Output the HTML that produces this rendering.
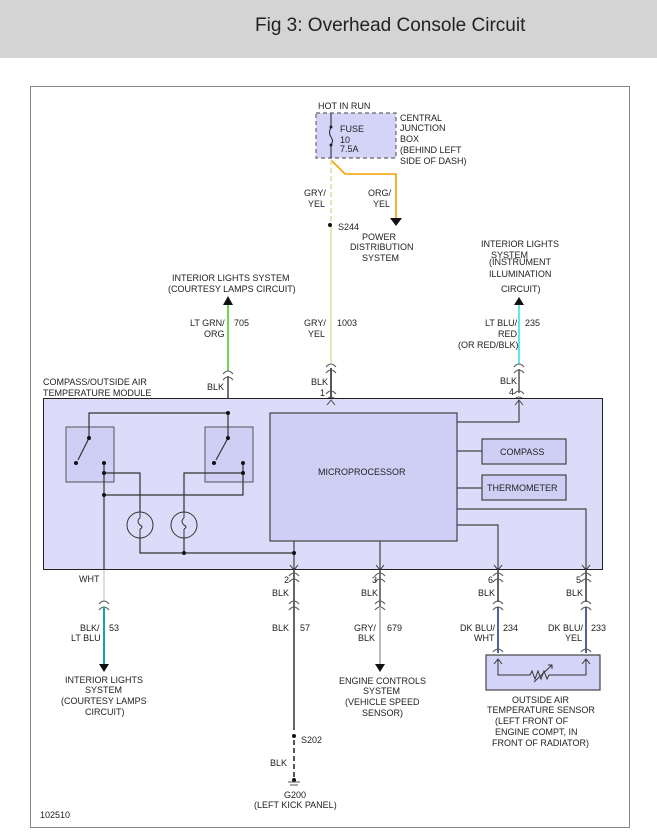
<!DOCTYPE html>
<html><head><meta charset="utf-8"><style>
html,body{margin:0;padding:0;background:#fff;}
svg{display:block;font-family:"Liberation Sans",sans-serif;}
text{font-size:9px;fill:#222;}
</style></head><body>
<svg width="657" height="837" viewBox="0 0 657 837" xmlns="http://www.w3.org/2000/svg">
<defs>
<g id="cn"><path d="M-5,2 Q0,-4 5,2 M-5,8 Q0,2 5,8" fill="none" stroke="#555" stroke-width="1"/></g>
</defs>
<rect x="0" y="0" width="657" height="58" fill="#d4d4d4"/>
<text x="255" y="31" style="font-size:19px" fill="#333">Fig 3: Overhead Console Circuit</text>
<rect x="30.5" y="86.5" width="599" height="741" fill="#fff" stroke="#888" stroke-width="1"/>

<!-- fuse box -->
<rect x="316" y="113" width="80" height="45" fill="#d4d4f8" stroke="#666" stroke-dasharray="4,3" stroke-width="1.2"/>
<text x="318" y="109">HOT IN RUN</text>
<line x1="331" y1="113" x2="331" y2="127" stroke="#222"/>
<path d="M331,127 q-3,6 0,10 q3,4 0,8" fill="none" stroke="#222"/>
<line x1="331" y1="145" x2="331" y2="158" stroke="#222"/>
<circle cx="331" cy="127" r="1.5" fill="#222"/><circle cx="331" cy="145" r="1.5" fill="#222"/>
<text x="340" y="132">FUSE</text><text x="340" y="143">10</text><text x="340" y="152">7.5A</text>
<text x="400" y="121">CENTRAL</text><text x="400" y="131">JUNCTION</text><text x="400" y="142">BOX</text><text x="400" y="153">(BEHIND LEFT</text><text x="400" y="164">SIDE OF DASH)</text>
<path d="M331,160 L345,174 L396,174 L396,218" fill="none" stroke="#f4a200" stroke-width="1.6"/>
<path d="M390,218 L402,218 L396,226 Z" fill="#111"/>
<text x="368" y="196">ORG/</text><text x="373" y="207">YEL</text>
<text x="362" y="240">POWER</text><text x="350" y="250">DISTRIBUTION</text><text x="362" y="261">SYSTEM</text>
<line x1="331" y1="160" x2="331" y2="225" stroke="#e4e4b8" stroke-width="2" stroke-dasharray="5,3"/>
<line x1="331" y1="225" x2="331" y2="363" stroke="#e6e6b8" stroke-width="2"/>
<circle cx="330" cy="225" r="2" fill="#111"/>
<text x="338" y="230">S244</text>
<text x="304" y="196">GRY/</text><text x="308" y="207">YEL</text>
<text x="304" y="326">GRY/</text><text x="308" y="337">YEL</text><text x="337" y="326">1003</text>
<use href="#cn" x="331" y="365"/>
<line x1="331" y1="368" x2="331" y2="413" stroke="#555" stroke-width="2"/>
<use href="#cn" x="331" y="392"/>
<text x="311" y="385">BLK</text><text x="320" y="396">1</text>

<!-- left top -->
<text x="172" y="281">INTERIOR LIGHTS SYSTEM</text>
<text x="168" y="292">(COURTESY LAMPS CIRCUIT)</text>
<path d="M223,305 L233,305 L228,296 Z" fill="#111"/>
<line x1="228" y1="305" x2="228" y2="371" stroke="#6ed84a" stroke-width="2"/>
<text x="190" y="326">LT GRN/</text><text x="204" y="337">ORG</text><text x="234" y="326">705</text>
<use href="#cn" x="228" y="372"/>
<line x1="228" y1="376" x2="228" y2="413" stroke="#444" stroke-width="1.5"/>
<text x="207" y="390">BLK</text>

<!-- right top -->
<text x="481" y="247">INTERIOR LIGHTS</text><text x="491" y="258">SYSTEM</text>
<text x="489" y="265">(INSTRUMENT</text><text x="489" y="277">ILLUMINATION</text><text x="501" y="292">CIRCUIT)</text>
<path d="M514,305 L524,305 L519,297 Z" fill="#111"/>
<line x1="519" y1="305" x2="519" y2="364" stroke="#5fe8ec" stroke-width="2"/>
<text x="485" y="326">LT BLU/</text><text x="498" y="337">RED</text><text x="458" y="348">(OR RED/BLK)</text><text x="525" y="326">235</text>
<use href="#cn" x="519" y="365"/>
<line x1="519" y1="369" x2="519" y2="393" stroke="#555" stroke-width="1.5"/>
<use href="#cn" x="519" y="392"/>
<text x="500" y="384">BLK</text><text x="509" y="395">4</text>

<!-- module -->
<text x="43" y="385">COMPASS/OUTSIDE AIR</text><text x="43" y="396">TEMPERATURE MODULE</text>
<rect x="43.5" y="398.5" width="559" height="171" fill="#dcdcfa" stroke="#222" stroke-width="1"/>
<rect x="270" y="413" width="187" height="128" fill="#cfcff6" stroke="#444" stroke-width="1.2"/>
<text x="318" y="475">MICROPROCESSOR</text>
<rect x="482" y="439" width="84" height="25" fill="#cfcff6" stroke="#444" stroke-width="1.2"/>
<text x="500" y="455">COMPASS</text>
<rect x="482" y="475" width="84" height="25" fill="#cfcff6" stroke="#444" stroke-width="1.2"/>
<text x="487" y="491">THERMOMETER</text>
<g fill="none" stroke="#444" stroke-width="1.2">
<path d="M457,422 L519,422 L519,401"/>
<path d="M457,451 L482,451 M457,488 L482,488"/>
<path d="M457,509 L586,509 L586,570"/>
<path d="M457,525 L498,525 L498,570"/>
<path d="M380,541 L380,570"/>
<path d="M294,541 L294,570"/>
</g>
<path d="M515,405 L519,400 L523,405" fill="none" stroke="#444"/>
<path d="M327,405 L331,400 L335,405" fill="none" stroke="#444"/>
<rect x="66" y="427" width="48" height="55" fill="#cfcff6" stroke="#555"/>
<rect x="205" y="427" width="48" height="55" fill="#cfcff6" stroke="#555"/>
<g fill="none" stroke="#333" stroke-width="1.2">
<path d="M89,438 L89,413 L228,413"/>
<path d="M228,413 L228,438"/>
<path d="M89,438 L78,460 M228,438 L216,460"/>
<path d="M104,463 L104,570"/>
<path d="M104,473 L140,473 L140,512"/>
<path d="M243,463 L243,495 L104,495"/>
<path d="M243,473 L184,473 L184,512"/>
<path d="M140,538 L140,553 L294,553"/>
<path d="M184,538 L184,553"/>
</g>
<g fill="#111">
<circle cx="89" cy="438" r="2"/><circle cx="76" cy="463" r="2"/><circle cx="104" cy="463" r="2"/><circle cx="104" cy="473" r="2"/><circle cx="104" cy="495" r="2"/>
<circle cx="228" cy="413" r="2"/><circle cx="228" cy="438" r="2"/><circle cx="214" cy="463" r="2"/><circle cx="243" cy="463" r="2"/><circle cx="243" cy="473" r="2"/>
<circle cx="184" cy="553" r="2"/><circle cx="294" cy="553" r="2"/>
</g>
<g fill="none" stroke="#333">
<circle cx="140" cy="525" r="13"/><circle cx="184" cy="525" r="13"/>
<path d="M140,518 q-4,3 0,7 q4,2 0,4 M140,512 L140,518 M140,529 L140,538"/>
<path d="M184,518 q-4,3 0,7 q4,2 0,4 M184,512 L184,518 M184,529 L184,538"/>
<path d="M290,565 L294,570 L298,565 M376,565 L380,570 L384,565 M494,565 L498,570 L502,565 M582,565 L586,570 L590,565"/>
</g>

<!-- bottom wires -->
<line x1="104" y1="570" x2="104" y2="602" stroke="#ddd" stroke-width="2"/>
<text x="79" y="582">WHT</text>
<use href="#cn" x="104" y="602"/>
<line x1="104" y1="607" x2="104" y2="664" stroke="#1aa3a3" stroke-width="2"/>
<path d="M99,664 L109,664 L104,672 Z" fill="#111"/>
<text x="80" y="631">BLK/</text><text x="71" y="641">LT BLU</text><text x="109" y="631">53</text>
<text x="65" y="683">INTERIOR LIGHTS</text><text x="85" y="693">SYSTEM</text><text x="61" y="704">(COURTESY LAMPS</text><text x="85" y="715">CIRCUIT)</text>

<line x1="294" y1="570" x2="294" y2="730" stroke="#666" stroke-width="2"/>
<use href="#cn" x="294" y="574"/><use href="#cn" x="294" y="602"/>
<text x="284" y="583">2</text><text x="272" y="596">BLK</text>
<text x="272" y="631">BLK</text><text x="300" y="631">57</text>
<circle cx="294" cy="736" r="2" fill="#111"/>
<text x="301" y="743">S202</text>
<line x1="294" y1="740" x2="294" y2="780" stroke="#555" stroke-width="2" stroke-dasharray="5,3"/>
<text x="270" y="766">BLK</text>
<circle cx="294" cy="780" r="2" fill="#111"/>
<path d="M288,782 L300,782 M290,785 L298,785" stroke="#555"/>
<text x="284" y="798">G200</text><text x="254" y="808">(LEFT KICK PANEL)</text>

<line x1="380" y1="570" x2="380" y2="664" stroke="#777" stroke-width="2"/>
<use href="#cn" x="380" y="574"/><use href="#cn" x="380" y="602"/>
<line x1="380" y1="607" x2="380" y2="664" stroke="#bbb" stroke-width="2"/>
<path d="M375,664 L385,664 L380,672 Z" fill="#111"/>
<text x="372" y="583">3</text><text x="361" y="596">BLK</text>
<text x="354" y="631">GRY/</text><text x="358" y="641">BLK</text><text x="387" y="631">679</text>
<text x="339" y="684">ENGINE CONTROLS</text><text x="363" y="694">SYSTEM</text><text x="345" y="705">(VEHICLE SPEED</text><text x="362" y="716">SENSOR)</text>

<line x1="498" y1="570" x2="498" y2="602" stroke="#666" stroke-width="2"/>
<use href="#cn" x="498" y="574"/><use href="#cn" x="498" y="602"/>
<line x1="498" y1="607" x2="498" y2="653" stroke="#2a3a8a" stroke-width="1.6"/>
<use href="#cn" x="498" y="650"/>
<text x="488" y="583">6</text><text x="478" y="596">BLK</text>
<text x="460" y="631">DK BLU/</text><text x="474" y="641">WHT</text><text x="503" y="631">234</text>

<line x1="586" y1="570" x2="586" y2="602" stroke="#666" stroke-width="2"/>
<use href="#cn" x="586" y="574"/><use href="#cn" x="586" y="602"/>
<line x1="586" y1="607" x2="586" y2="653" stroke="#2a3a8a" stroke-width="1.6"/>
<use href="#cn" x="586" y="650"/>
<text x="576" y="583">5</text><text x="566" y="596">BLK</text>
<text x="548" y="631">DK BLU/</text><text x="565" y="641">YEL</text><text x="591" y="631">233</text>

<rect x="486" y="655" width="114" height="35" fill="#d4d4f8" stroke="#444" stroke-width="1.2"/>
<path d="M498,660 L498,675 L530,675 l2,-4 l3,8 l3,-8 l3,8 l3,-8 l3,8 l2,-4 L586,675 L586,660" fill="none" stroke="#333"/>
<path d="M534,682 L552,665 M548,665 L552,665 L552,669" fill="none" stroke="#333"/>
<path d="M494,664 L498,659 L502,664 M582,664 L586,659 L590,664" fill="none" stroke="#333"/>
<text x="512" y="703">OUTSIDE AIR</text><text x="487" y="713">TEMPERATURE SENSOR</text><text x="495" y="724">(LEFT FRONT OF</text><text x="495" y="735">ENGINE COMPT, IN</text><text x="492" y="746">FRONT OF RADIATOR)</text>

<text x="40" y="818">102510</text>
</svg>
</body></html>
